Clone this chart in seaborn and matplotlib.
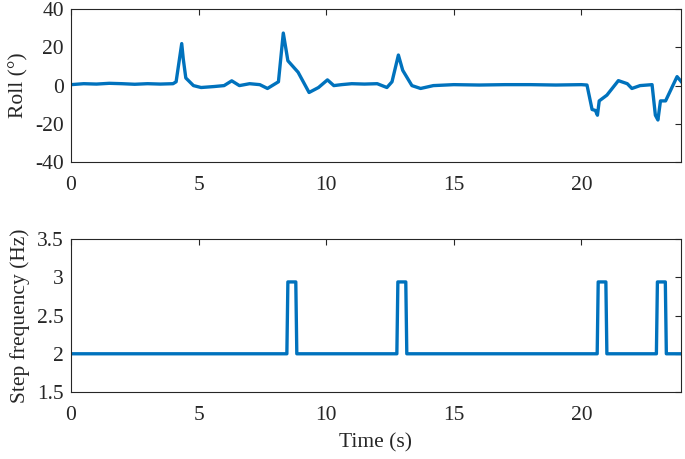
import matplotlib
matplotlib.use("Agg")
import matplotlib.pyplot as plt
import numpy as np
import pandas as pd
import seaborn as sns

# roll angle
roll_t = [0, 0.5, 1.0, 1.5, 2.0, 2.5, 3.0, 3.5, 4.0, 4.12, 4.34, 4.4, 4.5, 4.8, 5.1, 5.6,
          6.0, 6.3, 6.6, 7.0, 7.4, 7.7, 8.13, 8.32, 8.5, 8.9, 9.33, 9.7, 10.05, 10.3, 10.6,
          11.0, 11.5, 12.0, 12.38, 12.58, 12.83, 13.0, 13.36, 13.7, 14.2, 15.0, 16.0, 17.0,
          18.0, 19.0, 20.0, 20.22, 20.42, 20.55, 20.63, 20.7, 21.0, 21.45, 21.8, 21.98,
          22.3, 22.77, 22.9, 23.0, 23.1, 23.3, 23.75, 23.95]
roll_deg = [0.5, 1, 0.8, 1.2, 1, 0.7, 1, 0.8, 1, 2, 22, 14, 4, 0, -1, -0.5,
            0, 2.5, 0, 1, 0.5, -1.5, 2, 27.5, 13, 7, -3.6, -1, 3, 0, 0.5,
            1, 0.8, 1, -1, 2, 16, 8, 0, -1.5, 0, 0.5, 0.3, 0.5,
            0.5, 0.3, 0.5, 0.3, -12.5, -13, -15.5, -8, -5, 2.6, 1, -1.5,
            0, 0.5, -15.5, -18, -8, -8, 4.7, 1.5]

# step frequency pulses (start, end) in seconds
pulse_start = [8.46, 12.77, 20.62, 22.94]
pulse_end = [8.85, 13.16, 21.0, 23.33]
base_freq = 2.0
pulse_freq = 2.94

step_t, step_f = [0.0], [base_freq]
for s, e in zip(pulse_start, pulse_end):
    step_t += [s, s + 0.04, e - 0.04, e]
    step_f += [base_freq, pulse_freq, pulse_freq, base_freq]
step_t.append(24.0)
step_f.append(base_freq)

roll = pd.DataFrame({"t": roll_t, "roll": roll_deg})
step = pd.DataFrame({"t": step_t, "f": step_f})

sns.set_style("white")
plt.rcParams['font.family'] = ['Liberation Serif', 'DejaVu Serif']
plt.rcParams['font.size'] = 15.5
plt.rcParams['axes.unicode_minus'] = False
plt.rcParams['xtick.direction'] = 'in'
plt.rcParams['ytick.direction'] = 'in'

blue = '#0072BD'
fig = plt.figure(figsize=(6.85, 4.59), dpi=100)
ax1 = fig.add_axes([0.1036, 0.647, 0.8904, 0.333])
ax2 = fig.add_axes([0.1036, 0.146, 0.8904, 0.333])

sns.lineplot(data=roll, x="t", y="roll", ax=ax1, color=blue, linewidth=2.4)
sns.lineplot(data=step, x="t", y="f", ax=ax2, color=blue, linewidth=2.4)

ax1.set_ylim(-40, 40)
ax1.set_yticks([-40, -20, 0, 20, 40])
ax1.set_ylabel("Roll (°)", labelpad=5)
ax2.set_ylim(1.5, 3.5)
ax2.set_yticks([1.5, 2, 2.5, 3, 3.5])
ax2.set_yticklabels(["1.5", "2", "2.5", "3", "3.5"])
ax2.set_ylabel("Step frequency (Hz)", labelpad=5)
ax2.set_xlabel("Time (s)", labelpad=6)
ax1.set_xlabel("")

for ax in (ax1, ax2):
    ax.set_xlim(0, 23.9)
    ax.set_xticks([0, 5, 10, 15, 20])
    ax.tick_params(axis='x', pad=10)
    ax.tick_params(axis='y', pad=5)
    ax.tick_params(top=True, right=True, length=4, width=0.8, labelsize=15.5, colors='#262626')
    for sp in ax.spines.values():
        sp.set_linewidth(0.8)
        sp.set_color('#262626')

fig.savefig("out.png", dpi=100)
